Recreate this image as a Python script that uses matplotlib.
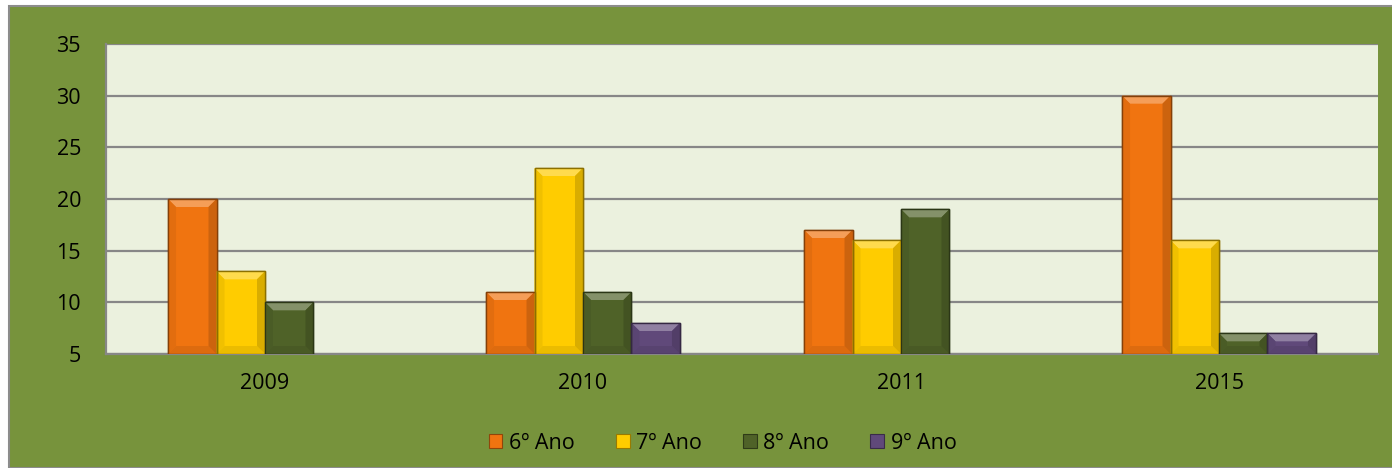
import numpy as np
import matplotlib.pyplot as plt
from matplotlib.patches import Rectangle, Polygon
from matplotlib.colors import to_rgb

plt.rcParams['font.family'] = ['Open Sans', 'DejaVu Sans']

# dados por ano
anos = ['2009', '2010', '2011', '2015']
series = ['6º Ano', '7º Ano', '8º Ano', '9º Ano']
ano6 = [20, 11, 17, 30]
ano7 = [13, 23, 16, 16]
ano8 = [10, 11, 19, 7]
ano9 = [np.nan, 8, np.nan, 7]
cores = ['#F07410', '#FFCC00', '#4F6228', '#60497A']

verde = '#77933C'
fundo = '#EBF1DE'
grade = '#878787'


def mix(c, alvo, t):
    c = np.array(to_rgb(c))
    return tuple(c + (np.array(to_rgb(alvo)) - c) * t)


fig = plt.figure(figsize=(13.92, 4.68), dpi=100)
fig.patch.set_facecolor('white')

# moldura verde
fig.patches.append(Rectangle((9 / 1392, 0), 1, 1 - 6 / 468, transform=fig.transFigure,
                             facecolor=verde, edgecolor='#8C8C8C', lw=1.5, zorder=-5))

ax = fig.add_axes([106 / 1392, 114 / 468, 1272 / 1392, 310 / 468])
ax.set_facecolor(fundo)
ax.set_xlim(-0.5, 3.5)
ax.set_ylim(5, 35)
ax.set_yticks(range(5, 36, 5))
ax.yaxis.grid(True, color=grade, lw=1.6)
ax.set_axisbelow(True)
for s in ['top', 'right']:
    ax.spines[s].set_visible(False)
ax.spines['left'].set_color(grade)
ax.spines['left'].set_linewidth(1.6)
ax.spines['bottom'].set_color(grade)
ax.spines['bottom'].set_linewidth(1.6)
ax.tick_params(length=0, labelsize=15.5, colors='black')
ax.tick_params(axis='y', pad=18)
ax.tick_params(axis='x', pad=14)

x = np.arange(len(anos))
w = 0.1525
# tamanho do chanfro em unidades de dados (~8 px)
dx = 8 / 318
dy = 8 / (310 / 30)

for i, (vals, cor, nome) in enumerate(zip([ano6, ano7, ano8, ano9], cores, series)):
    xs = x + (i - 1.5) * w
    bars = ax.bar(xs, np.nan_to_num(np.array(vals, float) - 5), width=w, bottom=5,
                  color=cor, edgecolor=mix(cor, 'black', 0.45), lw=1.0, label=nome, zorder=3)
    for b, v in zip(bars, vals):
        if np.isnan(v):
            b.set_visible(False)
            continue
        x0, x1 = b.get_x(), b.get_x() + b.get_width()
        y0, y1 = 5, v
        d = min(dy, (y1 - y0) / 2)
        e = dx * d / dy
        faces = [
            ([(x0, y1), (x1, y1), (x1 - e, y1 - d), (x0 + e, y1 - d)], mix(cor, 'white', 0.3)),
            ([(x0, y0), (x1, y0), (x1 - e, y0 + d), (x0 + e, y0 + d)], mix(cor, 'black', 0.08)),
            ([(x0, y0), (x0 + e, y0 + d), (x0 + e, y1 - d), (x0, y1)], mix(cor, 'black', 0.06)),
            ([(x1, y0), (x1 - e, y0 + d), (x1 - e, y1 - d), (x1, y1)], mix(cor, 'black', 0.15)),
        ]
        for pts, fc in faces:
            ax.add_patch(Polygon(pts, closed=True, facecolor=fc, edgecolor='none', zorder=3.5))
        ax.add_patch(Rectangle((x0, y0), x1 - x0, y1 - y0, facecolor='none',
                               edgecolor=mix(cor, 'black', 0.45), lw=1.0, zorder=4))

ax.set_xticks(x)
ax.set_xticklabels(anos)

handles = [Rectangle((0, 0), 1, 1, facecolor=c, edgecolor=mix(c, 'black', 0.4), lw=0.8)
           for c in cores]
fig.legend(handles, series, loc='center', bbox_to_anchor=(0.519, 0.053),
           bbox_transform=fig.transFigure, ncol=4, frameon=False, fontsize=15.5,
           handlelength=0.65, handleheight=0.65, handletextpad=0.3, columnspacing=1.9)

fig.savefig('out.png', dpi=100, facecolor=fig.get_facecolor())
